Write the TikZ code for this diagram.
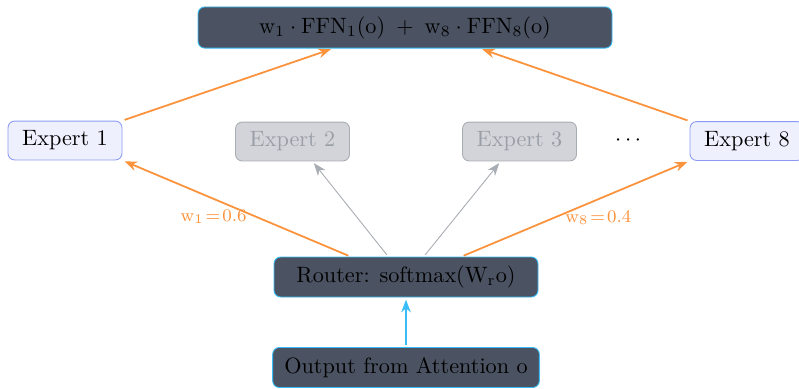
\documentclass[tikz,border=0pt]{standalone}
\usepackage{amsmath,amssymb}
\usepackage{tikz}
\usetikzlibrary{arrows.meta,positioning,calc}
\definecolor{slate}{HTML}{4B5363}
\definecolor{skyln}{HTML}{38BDF8}
\definecolor{orng}{HTML}{FB923C}
\definecolor{idxfill}{HTML}{EEF0FE}
\definecolor{idxline}{HTML}{8C9CF6}
\definecolor{offfill}{HTML}{D2D4D9}
\definecolor{offline}{HTML}{A8ACB3}
\definecolor{offtext}{HTML}{9A9EA6}
\tikzset{
  dark/.style ={draw=skyln,rounded corners=3pt,align=center,fill=slate,
                text=black,inner sep=3pt,minimum height=18pt},
  expon/.style={draw=idxline,rounded corners=3pt,align=center,fill=idxfill,
                inner sep=3pt,minimum width=51.3pt,minimum height=17.5pt},
  expoff/.style={draw=offline,rounded corners=3pt,align=center,fill=offfill,
                text=offtext,inner sep=3pt,minimum width=51.3pt,minimum height=17.5pt},
  ar/.style   ={-{Stealth[length=2mm]},shorten >=1pt,shorten <=1pt},
  sel/.style  ={ar,thick,draw=orng},
  unsel/.style={ar,draw=offline},
  wlab/.style ={font=\footnotesize,text=orng,inner sep=1pt},
}
\newcommand{\rmv}[1]{\mathrm{#1}}

\begin{document}
\begin{tikzpicture}[x=0.45pt,y=-0.45pt]
\useasboundingbox (0,0) rectangle (799,388);
\node[dark,minimum width=186.3pt,minimum height=18.5pt] (SUM) at (405,27.5)
  {$\rmv{w}_1\cdot\rmv{FFN}_1(\rmv{o})\;+\;\rmv{w}_8\cdot\rmv{FFN}_8(\rmv{o})$};
\node[expon] (E1) at (65,140.5) {Expert 1};
\node[expoff] (E2) at (292.5,141.5) {Expert 2};
\node[expoff] (E3) at (519.5,141.5) {Expert 3};
\node (DOTS) at (630,141) {$\cdots$};
\node[expon] (E8) at (747,141) {Expert 8};
\node[dark,minimum width=118.8pt] (RT) at (406,277) {Router: softmax($\rmv{W}_\rmv{r}\rmv{o}$)};
\node[dark,minimum width=120pt] (OUT) at (406,367.5) {Output from Attention o};
\draw[ar,thick,draw=skyln] (OUT) -- (RT);
\draw[sel] ([xshift=-25pt]RT.north) -- (E1.south east)
  node[wlab,pos=0.6,yshift=-8pt] (L1) {$\rmv{w}_1\!=\!0.6$};
\draw[unsel] ([xshift=-8pt]RT.north) -- ([xshift=9pt]E2.south);
\draw[unsel] ([xshift=8pt]RT.north) -- ([xshift=-8.5pt]E3.south);
\draw[sel] ([xshift=25pt]RT.north) -- (E8.south west)
  node[wlab,pos=0.6,yshift=-8.3pt] (L8) {$\rmv{w}_8\!=\!0.4$};
\draw[sel] (E1.north east) -- ([xshift=-32.4pt]SUM.south);
\draw[sel] (E8.north west) -- ([xshift=33.8pt]SUM.south);
\end{tikzpicture}
\end{document}
